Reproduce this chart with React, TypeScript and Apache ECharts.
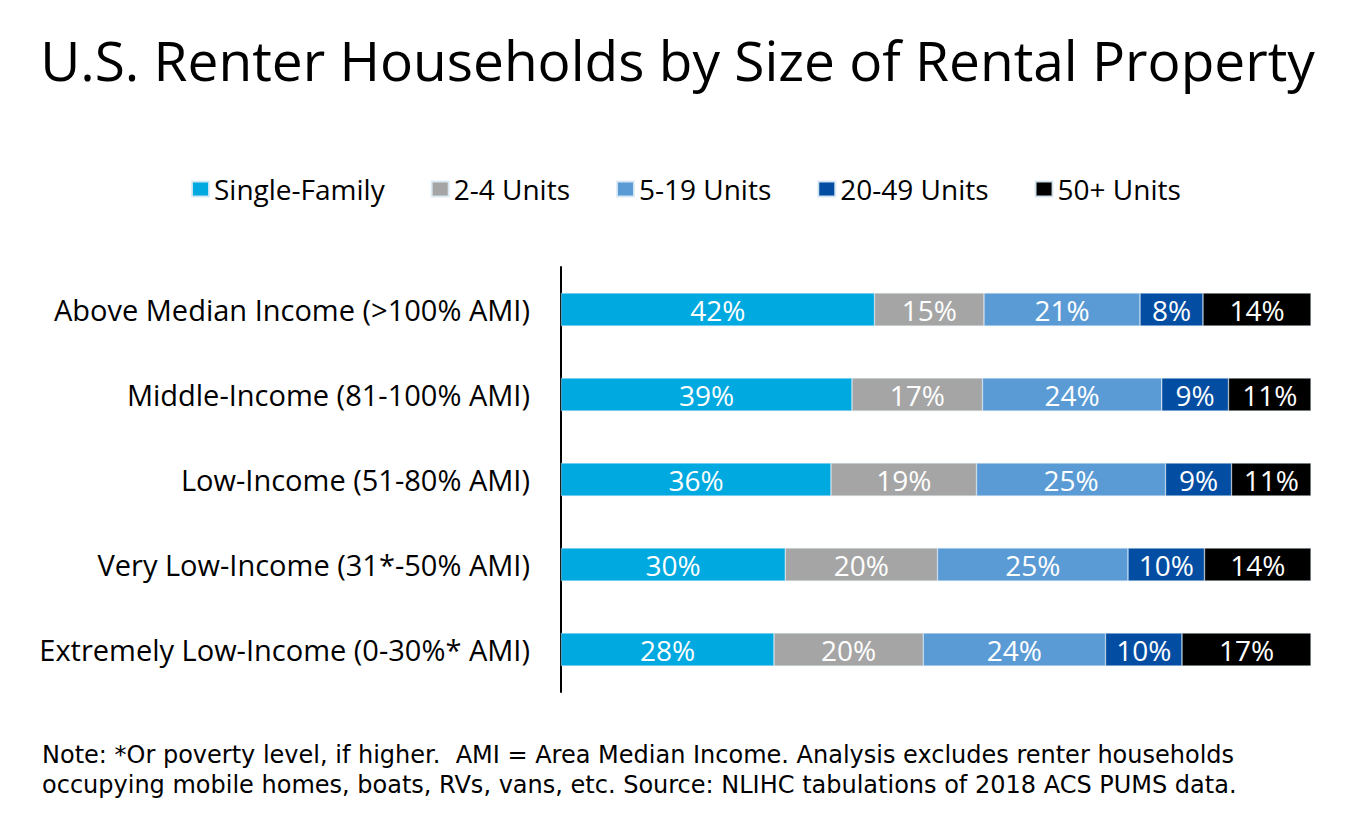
import React, { useEffect, useRef } from "react";
import * as echarts from "echarts";

const categories = [
  "Above Median Income (>100% AMI)",
  "Middle-Income (81-100% AMI)",
  "Low-Income (51-80% AMI)",
  "Very Low-Income (31*-50% AMI)",
  "Extremely Low-Income (0-30%* AMI)",
];
const seriesNames = ["Single-Family", "2-4 Units", "5-19 Units", "20-49 Units", "50+ Units"];
const singleFamily = [41.8, 38.8, 36.0, 29.9, 28.4];
const units2to4 = [14.6, 17.4, 19.4, 20.3, 19.9];
const units5to19 = [20.8, 23.9, 25.2, 25.4, 24.3];
const units20to49 = [8.4, 8.9, 8.8, 10.2, 10.2];
const units50plus = [14.4, 11.0, 10.6, 14.2, 17.2];
const colors = ["#00A9E0", "#A5A5A5", "#5B9BD5", "#034EA2", "#000000"];
const noteLines = [
  "Note: *Or poverty level, if higher.  AMI = Area Median Income. Analysis excludes renter households",
  "occupying mobile homes, boats, RVs, vans, etc. Source: NLIHC tabulations of 2018 ACS PUMS data.",
];

const FONT = "Open Sans";
const NOTE_FONT = "DejaVu Sans";

export default function App() {
  const ref = useRef<HTMLDivElement>(null);
  useEffect(() => {
    const chart = echarts.init(ref.current!, null, { renderer: "svg" });
    const values = [singleFamily, units2to4, units5to19, units20to49, units50plus];
    chart.setOption({
      animation: false,
      textStyle: { fontFamily: FONT },
      title: {
        text: "U.S. Renter Households by Size of Rental Property",
        left: "center",
        top: 27,
        textStyle: { fontFamily: FONT, fontSize: 55, fontWeight: "normal", color: "#000" },
      },
      legend: {
        top: 170,
        left: 186,
        itemWidth: 17,
        itemHeight: 15,
        itemGap: 46,
        icon: "rect",
        textStyle: { fontFamily: FONT, fontSize: 28, color: "#000", padding: [0, 0, 0, 0] },
        data: seriesNames,
      },
      grid: { left: 561, top: 267, width: 750, height: 425, containLabel: false },
      xAxis: {
        type: "value",
        min: 0,
        max: 100,
        show: false,
      },
      yAxis: {
        type: "category",
        inverse: true,
        data: categories,
        axisLine: { show: true, lineStyle: { color: "#000", width: 2 } },
        axisTick: { show: false },
        axisLabel: { fontFamily: FONT, fontSize: 29, color: "#000", margin: 31 },
      },
      series: seriesNames.map((name, i) => ({
        name,
        type: "bar",
        stack: "total",
        barWidth: 33,
        data: values[i],
        itemStyle: { color: colors[i], borderColor: "rgba(220,235,245,0.9)", borderWidth: 0.5 },
        label: {
          show: true,
          position: "inside",
          color: "#fff",
          fontFamily: FONT,
          fontSize: 28,
          formatter: (p: any) => Math.round(p.value) + "%",
        },
      })),
      graphic: noteLines.map((t, i) => ({
        type: "text",
        x: 42,
        y: 755 + i * 30,
        style: {
          text: t,
          fontFamily: NOTE_FONT,
          fontSize: 24,
          verticalAlign: "middle",
          fill: "#000",
        },
      })),
    });
    return () => chart.dispose();
  }, []);
  return <div ref={ref} style={{ width: 1355, height: 834, margin: -8 }} />;
}
